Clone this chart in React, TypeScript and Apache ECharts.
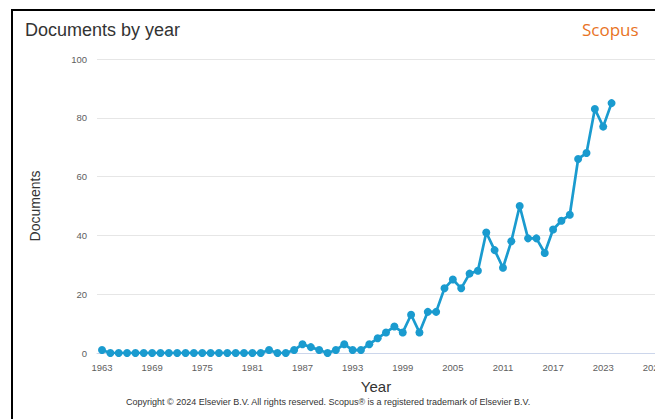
import React, { useEffect, useRef } from "react";
import * as echarts from "echarts";

const years: number[] = [];
for (let y = 1963; y <= 2024; y++) years.push(y);

const documents: number[] = [
  1, 0, 0, 0, 0, 0, 0, 0, 0, 0, // 1963-1972
  0, 0, 0, 0, 0, 0, 0, 0, 0, 0, // 1973-1982
  1, 0, 0, 1, 3, 2, 1, 0, 1, 3, // 1983-1992
  1, 1, 3, 5, 7, 9, 7, 13, 7, 14, // 1993-2002
  14, 22, 25, 22, 27, 28, 41, 35, 29, 38, // 2003-2012
  50, 39, 39, 34, 42, 45, 47, 66, 68, 83, // 2013-2022
  77, 85, // 2023-2024
];

const xTickLabels = [1963, 1969, 1975, 1981, 1987, 1993, 1999, 2005, 2011, 2017, 2023, 2029];

const titleText = "Documents by year";
const brandText = "Scopus";
const yName = "Documents";
const xName = "Year";
const copyrightText =
  "Copyright © 2024 Elsevier B.V. All rights reserved. Scopus® is a registered trademark of Elsevier B.V.";

export default function App() {
  const ref = useRef<HTMLDivElement>(null);
  useEffect(() => {
    document.body.style.margin = "0";
    document.body.style.overflow = "hidden";
    document.documentElement.style.overflow = "hidden";
    if (!ref.current) return;
    const chart = echarts.init(ref.current, undefined, { renderer: "svg", width: 655, height: 419 });
    const font = "Arial, 'Liberation Sans', sans-serif";
    chart.setOption({
      animation: false,
      backgroundColor: "#ffffff",
      textStyle: { fontFamily: font },
      title: {
        text: titleText,
        left: 20,
        top: 16,
        textStyle: { fontSize: 18, fontWeight: "normal", color: "#333333", fontFamily: font },
      },
      graphic: [
        {
          type: "polyline",
          shape: { points: [[12, 419], [12, 10], [655, 10]] },
          style: { fill: "none", stroke: "#000000", lineWidth: 2 },
          z: 100,
        },
        {
          type: "text",
          x: 582,
          y: 21,
          style: { text: brandText, fontSize: 17, fill: "#e8731f", fontFamily: "'Open Sans', sans-serif" },
        },
        {
          type: "text",
          x: 126,
          y: 397,
          style: { text: copyrightText, fontSize: 9, fill: "#333333", fontFamily: font },
        },
      ],
      grid: { left: 97, top: 59, height: 294, right: 0, outerBoundsMode: "none", containLabel: false },
      xAxis: {
        type: "value",
        min: 1962.4,
        max: 2029.2,
        name: xName,
        nameLocation: "middle",
        nameGap: 26,
        nameTextStyle: { fontSize: 15, color: "#333333", fontFamily: font },
        axisLine: { show: true, lineStyle: { color: "#ccd6eb", width: 1 } },
        axisTick: { show: false },
        splitLine: { show: false },
        axisLabel: {
          customValues: xTickLabels,
          fontSize: 9.5,
          color: "#606060",
          margin: 9,
          hideOverlap: false,
          formatter: (v: number) => String(v),
        },
      },
      yAxis: {
        type: "value",
        min: 0,
        max: 100,
        interval: 20,
        name: yName,
        nameLocation: "middle",
        nameGap: 55,
        nameTextStyle: { fontSize: 14, color: "#333333", fontFamily: font },
        axisLine: { show: false },
        axisTick: { show: false },
        splitLine: { lineStyle: { color: "#e6e6e6", width: 1 } },
        axisLabel: { fontSize: 9.5, color: "#606060", margin: 10 },
      },
      series: [
        {
          type: "line",
          data: years.map((y, i) => [y, documents[i]]),
          symbol: "circle",
          symbolSize: 8,
          lineStyle: { color: "#1a9bcf", width: 2.7 },
          itemStyle: { color: "#1a9bcf" },
        },
      ],
    });
    return () => chart.dispose();
  }, []);
  return (
    <div
      ref={ref}
      style={{ width: 655, height: 419, position: "absolute", left: 0, top: 0, overflow: "hidden" }}
    />
  );
}
